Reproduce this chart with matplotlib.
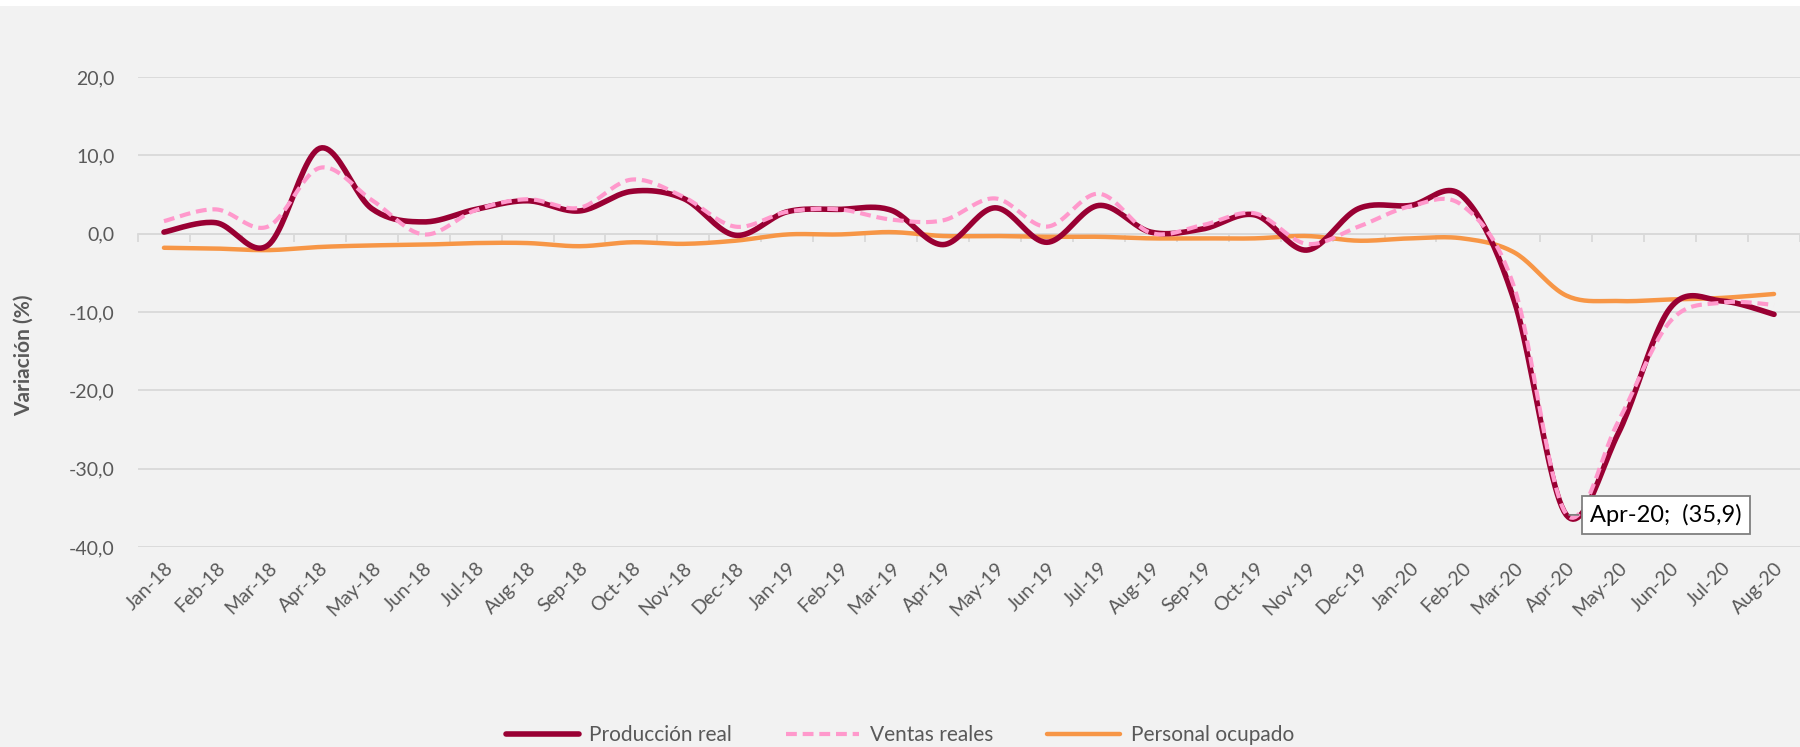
import numpy as np
import matplotlib
matplotlib.use("Agg")
import matplotlib.pyplot as plt
from matplotlib.patches import Rectangle

plt.rcParams['font.family'] = ['Lato', 'DejaVu Sans']

# Data (variación %)
months = ['Jan-18', 'Feb-18', 'Mar-18', 'Apr-18', 'May-18', 'Jun-18', 'Jul-18', 'Aug-18',
          'Sep-18', 'Oct-18', 'Nov-18', 'Dec-18', 'Jan-19', 'Feb-19', 'Mar-19', 'Apr-19',
          'May-19', 'Jun-19', 'Jul-19', 'Aug-19', 'Sep-19', 'Oct-19', 'Nov-19', 'Dec-19',
          'Jan-20', 'Feb-20', 'Mar-20', 'Apr-20', 'May-20', 'Jun-20', 'Jul-20', 'Aug-20']

produccion = [0.2, 1.4, -1.5, 10.9, 3.2, 1.5, 3.1, 4.2,
              2.9, 5.4, 4.5, -0.2, 2.8, 3.1, 3.0, -1.4,
              3.3, -1.1, 3.6, 0.2, 0.6, 2.4, -2.1, 3.2,
              3.6, 4.8, -8.6, -35.9, -25.5, -9.5, -8.6, -10.3]

ventas = [1.6, 3.1, 0.9, 8.4, 4.3, -0.1, 3.0, 4.4,
          3.3, 6.9, 4.7, 0.9, 2.8, 3.1, 1.8, 1.7,
          4.5, 0.9, 5.1, 0.1, 1.1, 2.6, -1.3, 0.9,
          3.5, 3.6, -6.9, -35.8, -24.0, -11.2, -8.8, -9.1]

personal = [-1.8, -1.9, -2.1, -1.7, -1.5, -1.4, -1.2, -1.2,
            -1.6, -1.1, -1.3, -0.9, -0.1, -0.1, 0.2, -0.3,
            -0.3, -0.4, -0.4, -0.6, -0.6, -0.6, -0.3, -0.9,
            -0.6, -0.6, -2.4, -7.9, -8.6, -8.4, -8.2, -7.7]

series_names = ['Producción real', 'Ventas reales', 'Personal ocupado']
yticks = [-40, -30, -20, -10, 0, 10, 20]


def smooth(y, n=24):
    # Excel-like smoothed line (Bezier through the points)
    x = np.arange(len(y), dtype=float)
    y = np.asarray(y, dtype=float)
    pts = np.column_stack([x, y])
    out = []
    for i in range(len(pts) - 1):
        p0 = pts[i - 1] if i > 0 else pts[i]
        p1, p2 = pts[i], pts[i + 1]
        p3 = pts[i + 2] if i + 2 < len(pts) else pts[i + 1]
        c1 = p1 + (p2 - p0) / 6
        c2 = p2 - (p3 - p1) / 6
        t = np.linspace(0, 1, n)[:, None]
        seg = ((1 - t) ** 3) * p1 + 3 * ((1 - t) ** 2) * t * c1 + 3 * (1 - t) * t ** 2 * c2 + t ** 3 * p2
        out.append(seg if i == 0 else seg[1:])
    out = np.vstack(out)
    return out[:, 0], out[:, 1]


grey = '#595959'
grid = '#D9D9D9'

fig = plt.figure(figsize=(18, 7.47), dpi=100, facecolor='#F2F2F2')
fig.patches.append(Rectangle((0, 1 - 6 / 747), 1, 6 / 747, transform=fig.transFigure,
                             facecolor='white', edgecolor='none', zorder=0))
ax = fig.add_axes([138 / 1800, 1 - 547 / 747, 1 - 138 / 1800, (547 - 77) / 747])
ax.patch.set_visible(False)

sx, sy = smooth(produccion)
l1, = ax.plot(sx, sy, color='#990033', lw=4.0, solid_capstyle='round', zorder=4)
sx, sy = smooth(ventas)
l2, = ax.plot(sx, sy, color='#FF99CC', lw=3.0, dashes=(2.6, 1.4), zorder=5)
sx, sy = smooth(personal)
l3, = ax.plot(sx, sy, color='#F79646', lw=3.2, solid_capstyle='round', zorder=3)

ax.set_ylim(-40, 20)
ax.set_xlim(-0.5, len(months) - 0.5)
ax.set_yticks(yticks)
ax.set_yticklabels([f'{v:.1f}'.replace('.', ',') for v in yticks], color=grey, fontsize=14)
ax.tick_params(axis='y', length=0, pad=17)
ax.grid(axis='y', color=grid, lw=1.3)
ax.set_axisbelow(True)
for s in ['top', 'right', 'left']:
    ax.spines[s].set_visible(False)

# category axis crossing at 0 with tick marks between categories
ax.spines['bottom'].set_position(('data', 0))
ax.spines['bottom'].set_color(grid)
ax.spines['bottom'].set_linewidth(1.3)
ax.set_xticks(np.arange(-0.5, len(months), 1.0))
ax.set_xticklabels([])
ax.tick_params(axis='x', length=6, width=1.3, color=grid, direction='out')

sec = ax.secondary_xaxis('bottom')
sec.set_xticks(np.arange(len(months)))
sec.set_xticklabels(months, rotation=45, ha='right', va='top', rotation_mode='anchor',
                    color=grey, fontsize=14)
sec.tick_params(length=0, pad=9)
sec.spines['bottom'].set_visible(False)

fig.text(0.013, 0.525, 'Variación (%)', rotation=90, ha='center', va='center',
         fontsize=15, fontweight='bold', color=grey)

i = months.index('Apr-20')
ax.annotate('Apr-20;  (35,9)', xy=(i, produccion[i]), xytext=(24, 0),
            textcoords='offset pixels', ha='left', va='center', fontsize=17, color='black',
            bbox=dict(boxstyle='square,pad=0.35', fc='white', ec='#7F7F7F', lw=1.3),
            arrowprops=dict(arrowstyle='-', color='#7F7F7F', lw=1.3), zorder=6)

leg = fig.legend([l1, l2, l3], series_names, loc='center', bbox_to_anchor=(0.5, 0.016),
                 ncol=3, frameon=False, fontsize=15, handlelength=3.5, columnspacing=2.6,
                 handletextpad=0.5)
for t in leg.get_texts():
    t.set_color(grey)

fig.savefig('out.png', dpi=100, facecolor=fig.get_facecolor())
